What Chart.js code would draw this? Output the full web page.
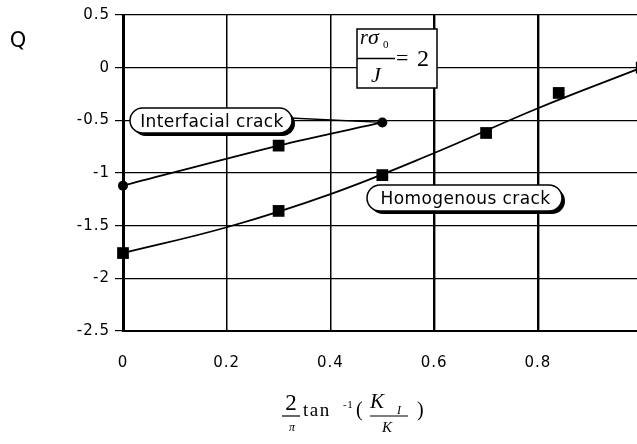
<!DOCTYPE html>
<html>
<head>
<meta charset="utf-8">
<script src="https://cdn.jsdelivr.net/npm/chart.js@4"></script>
<style>
  html, body { margin: 0; padding: 0; background: #fff; overflow: hidden; }
  #wrap { width: 650px; height: 444px; }
</style>
</head>
<body>
<div id="wrap"><canvas id="chart" width="650" height="444"></canvas></div>
<script>
/* ---------- DATA ---------- */
const seriesNames = ['Interfacial crack', 'Homogenous crack'];

const interfacialX = [0, 0.3, 0.5];
const interfacialQ = [-1.12, -0.74, -0.52];
const interfacialMarks = ['circle', 'rect', 'circle'];

// measured points (squares)
const homogenousX = [0, 0.3, 0.5, 0.7, 0.84, 1];
const homogenousQ = [-1.76, -1.36, -1.02, -0.62, -0.24, 0];

// the drawn curve is a smooth fit at the grid lines
const homogenousFitX = [0, 0.2, 0.4, 0.6, 0.8, 1];
const homogenousFitQ = [-1.76, -1.515, -1.2, -0.81, -0.385, 0];

const xRange = [0, 1];      // x = 1 sits just past the right edge of the picture
const yRange = [-2.5, 0.5];

const SANS = '"DejaVu Sans", Arial, sans-serif';
const SERIF = '"Liberation Serif", "Times New Roman", serif';

const toPoints = (xs, ys) => xs.map((x, i) => ({ x, y: ys[i] }));
const fmt = v => String(+(+v).toFixed(1));

/* ---------- HELPERS ---------- */
function text(ctx, str, x, y, font, align, spacing) {
  ctx.font = font;
  ctx.textAlign = align || 'left';
  ctx.textBaseline = 'alphabetic';
  ctx.letterSpacing = spacing || '0px';
  ctx.fillText(str, x, y);
}

function pill(ctx, x, y, w, h, label) {
  const r = h / 2;
  const path = (ox, oy) => {
    ctx.beginPath();
    ctx.moveTo(x + r + ox, y + oy);
    ctx.lineTo(x + w - r + ox, y + oy);
    ctx.arc(x + w - r + ox, y + r + oy, r, -Math.PI / 2, Math.PI / 2);
    ctx.lineTo(x + r + ox, y + h + oy);
    ctx.arc(x + r + ox, y + r + oy, r, Math.PI / 2, Math.PI * 1.5);
    ctx.closePath();
  };
  // drop shadow
  ctx.fillStyle = '#000';
  path(3, 3);
  ctx.fill();
  ctx.fillStyle = '#fff';
  path(0, 0);
  ctx.fill();
  ctx.lineWidth = 1.5;
  ctx.strokeStyle = '#000';
  ctx.stroke();
  ctx.fillStyle = '#000';
  text(ctx, label, x + w / 2 + 1, y + h / 2 + 6, '17px ' + SANS, 'center', '0.4px');
}

function hline(ctx, x1, x2, y, w) {
  ctx.beginPath();
  ctx.lineWidth = w || 1;
  ctx.moveTo(x1, y);
  ctx.lineTo(x2, y);
  ctx.stroke();
}

/* ---------- ANNOTATIONS ---------- */
const annotations = {
  id: 'annotations',
  beforeDraw(chart) {
    chart.ctx.letterSpacing = '1px';
  },
  afterDatasetsDraw(chart) {
    const ctx = chart.ctx;
    const xs = chart.scales.x, ys = chart.scales.y;
    ctx.save();
    ctx.strokeStyle = '#000';
    ctx.fillStyle = '#000';

    // leader from the label to the last interfacial point
    const last = interfacialX.length - 1;
    ctx.beginPath();
    ctx.lineWidth = 1.3;
    ctx.moveTo(290, 118);
    ctx.lineTo(xs.getPixelForValue(interfacialX[last]), ys.getPixelForValue(interfacialQ[last]));
    ctx.stroke();

    pill(ctx, 130, 108, 162, 25, seriesNames[0]);
    pill(ctx, 367, 185, 195, 26, seriesNames[1]);

    // r sigma0 / J = 2 box
    ctx.fillStyle = '#fff';
    ctx.fillRect(357, 29, 80, 59);
    ctx.lineWidth = 1.5;
    ctx.strokeRect(357, 29, 80, 59);
    ctx.fillStyle = '#000';
    text(ctx, 'r', 360, 44, 'italic 20px ' + SERIF);
    text(ctx, 'σ', 368, 44, 'italic 22px ' + SERIF);
    text(ctx, '0', 383, 48, '11px ' + SERIF);
    hline(ctx, 357, 395, 58.5, 1.5);
    text(ctx, 'J', 371, 82, 'italic 22px ' + SERIF);
    text(ctx, '=', 396, 65, '22px ' + SERIF);
    text(ctx, '2', 417, 66, '24px ' + SERIF);

    ctx.restore();
  },
  afterDraw(chart) {
    const ctx = chart.ctx;
    ctx.save();
    ctx.fillStyle = '#000';
    ctx.strokeStyle = '#000';

    // y axis title
    text(ctx, 'Q', 18, 47, '21px ' + SANS, 'center');

    // x axis title: 2/pi tan^-1 (K_I / K)
    text(ctx, '2', 291, 410, '23px ' + SERIF, 'center');
    hline(ctx, 282, 300, 416, 1.2);
    text(ctx, 'π', 292, 431, 'italic 12px ' + SERIF, 'center');
    text(ctx, 'tan', 303, 416, '19px ' + SERIF, 'left', '1.5px');
    text(ctx, '-1', 343, 408, '11px ' + SERIF, 'left', '0.5px');
    text(ctx, '(', 356, 416, '20px ' + SERIF);
    text(ctx, 'K', 370, 408, 'italic 21px ' + SERIF);
    text(ctx, 'I', 397, 414, 'italic 12px ' + SERIF);
    hline(ctx, 370, 408, 416, 1.2);
    text(ctx, 'K', 382, 432, 'italic 15px ' + SERIF);
    text(ctx, ')', 417, 416, '20px ' + SERIF);

    ctx.restore();
    ctx.letterSpacing = '0px';
  }
};

/* ---------- CHART ---------- */
new Chart(document.getElementById('chart'), {
  type: 'line',
  data: {
    datasets: [
      {
        label: seriesNames[0],
        data: toPoints(interfacialX, interfacialQ),
        borderColor: '#000',
        backgroundColor: '#000',
        borderWidth: 1.8,
        pointStyle: interfacialMarks,
        pointRadius: interfacialMarks.map(m => m === 'rect' ? 8.3 : 5),
        pointBorderWidth: 0,
        tension: 0.3,
        clip: false
      },
      {
        label: seriesNames[1] + ' fit',
        data: toPoints(homogenousFitX, homogenousFitQ),
        borderColor: '#000',
        borderWidth: 1.8,
        pointRadius: 0,
        tension: 0.4,
        clip: false
      },
      {
        label: seriesNames[1],
        data: toPoints(homogenousX, homogenousQ),
        borderColor: '#000',
        backgroundColor: '#000',
        showLine: false,
        pointStyle: 'rect',
        pointRadius: 8.3,
        pointBorderWidth: 0,
        clip: false
      }
    ]
  },
  options: {
    responsive: false,
    animation: false,
    events: [],
    layout: { padding: { top: 15, left: 0, right: 0, bottom: 0 } },
    plugins: { legend: { display: false }, tooltip: { enabled: false } },
    scales: {
      x: {
        type: 'linear',
        min: xRange[0],
        max: xRange[1],
        afterFit: s => { s.height = 113; },
        border: { color: '#000', width: 2 },
        grid: {
          color: '#000',
          lineWidth: c => (c.tick && c.tick.value > 0.5 ? 2.4 : 1.5),
          tickLength: 19,
          tickColor: 'transparent'
        },
        ticks: {
          stepSize: 0.2,
          padding: 4,
          color: '#000',
          font: { family: SANS, size: 15 },
          callback: v => (v < 1 ? fmt(v) : '')
        }
      },
      y: {
        min: yRange[0],
        max: yRange[1],
        afterFit: s => { s.width = 123; },
        border: { color: '#000', width: 3 },
        grid: { color: '#000', lineWidth: 1.2, tickLength: 8 },
        ticks: {
          stepSize: 0.5,
          padding: 5,
          color: '#000',
          font: { family: SANS, size: 15 },
          callback: v => fmt(v)
        }
      }
    }
  },
  plugins: [annotations]
});
</script>
</body>
</html>
